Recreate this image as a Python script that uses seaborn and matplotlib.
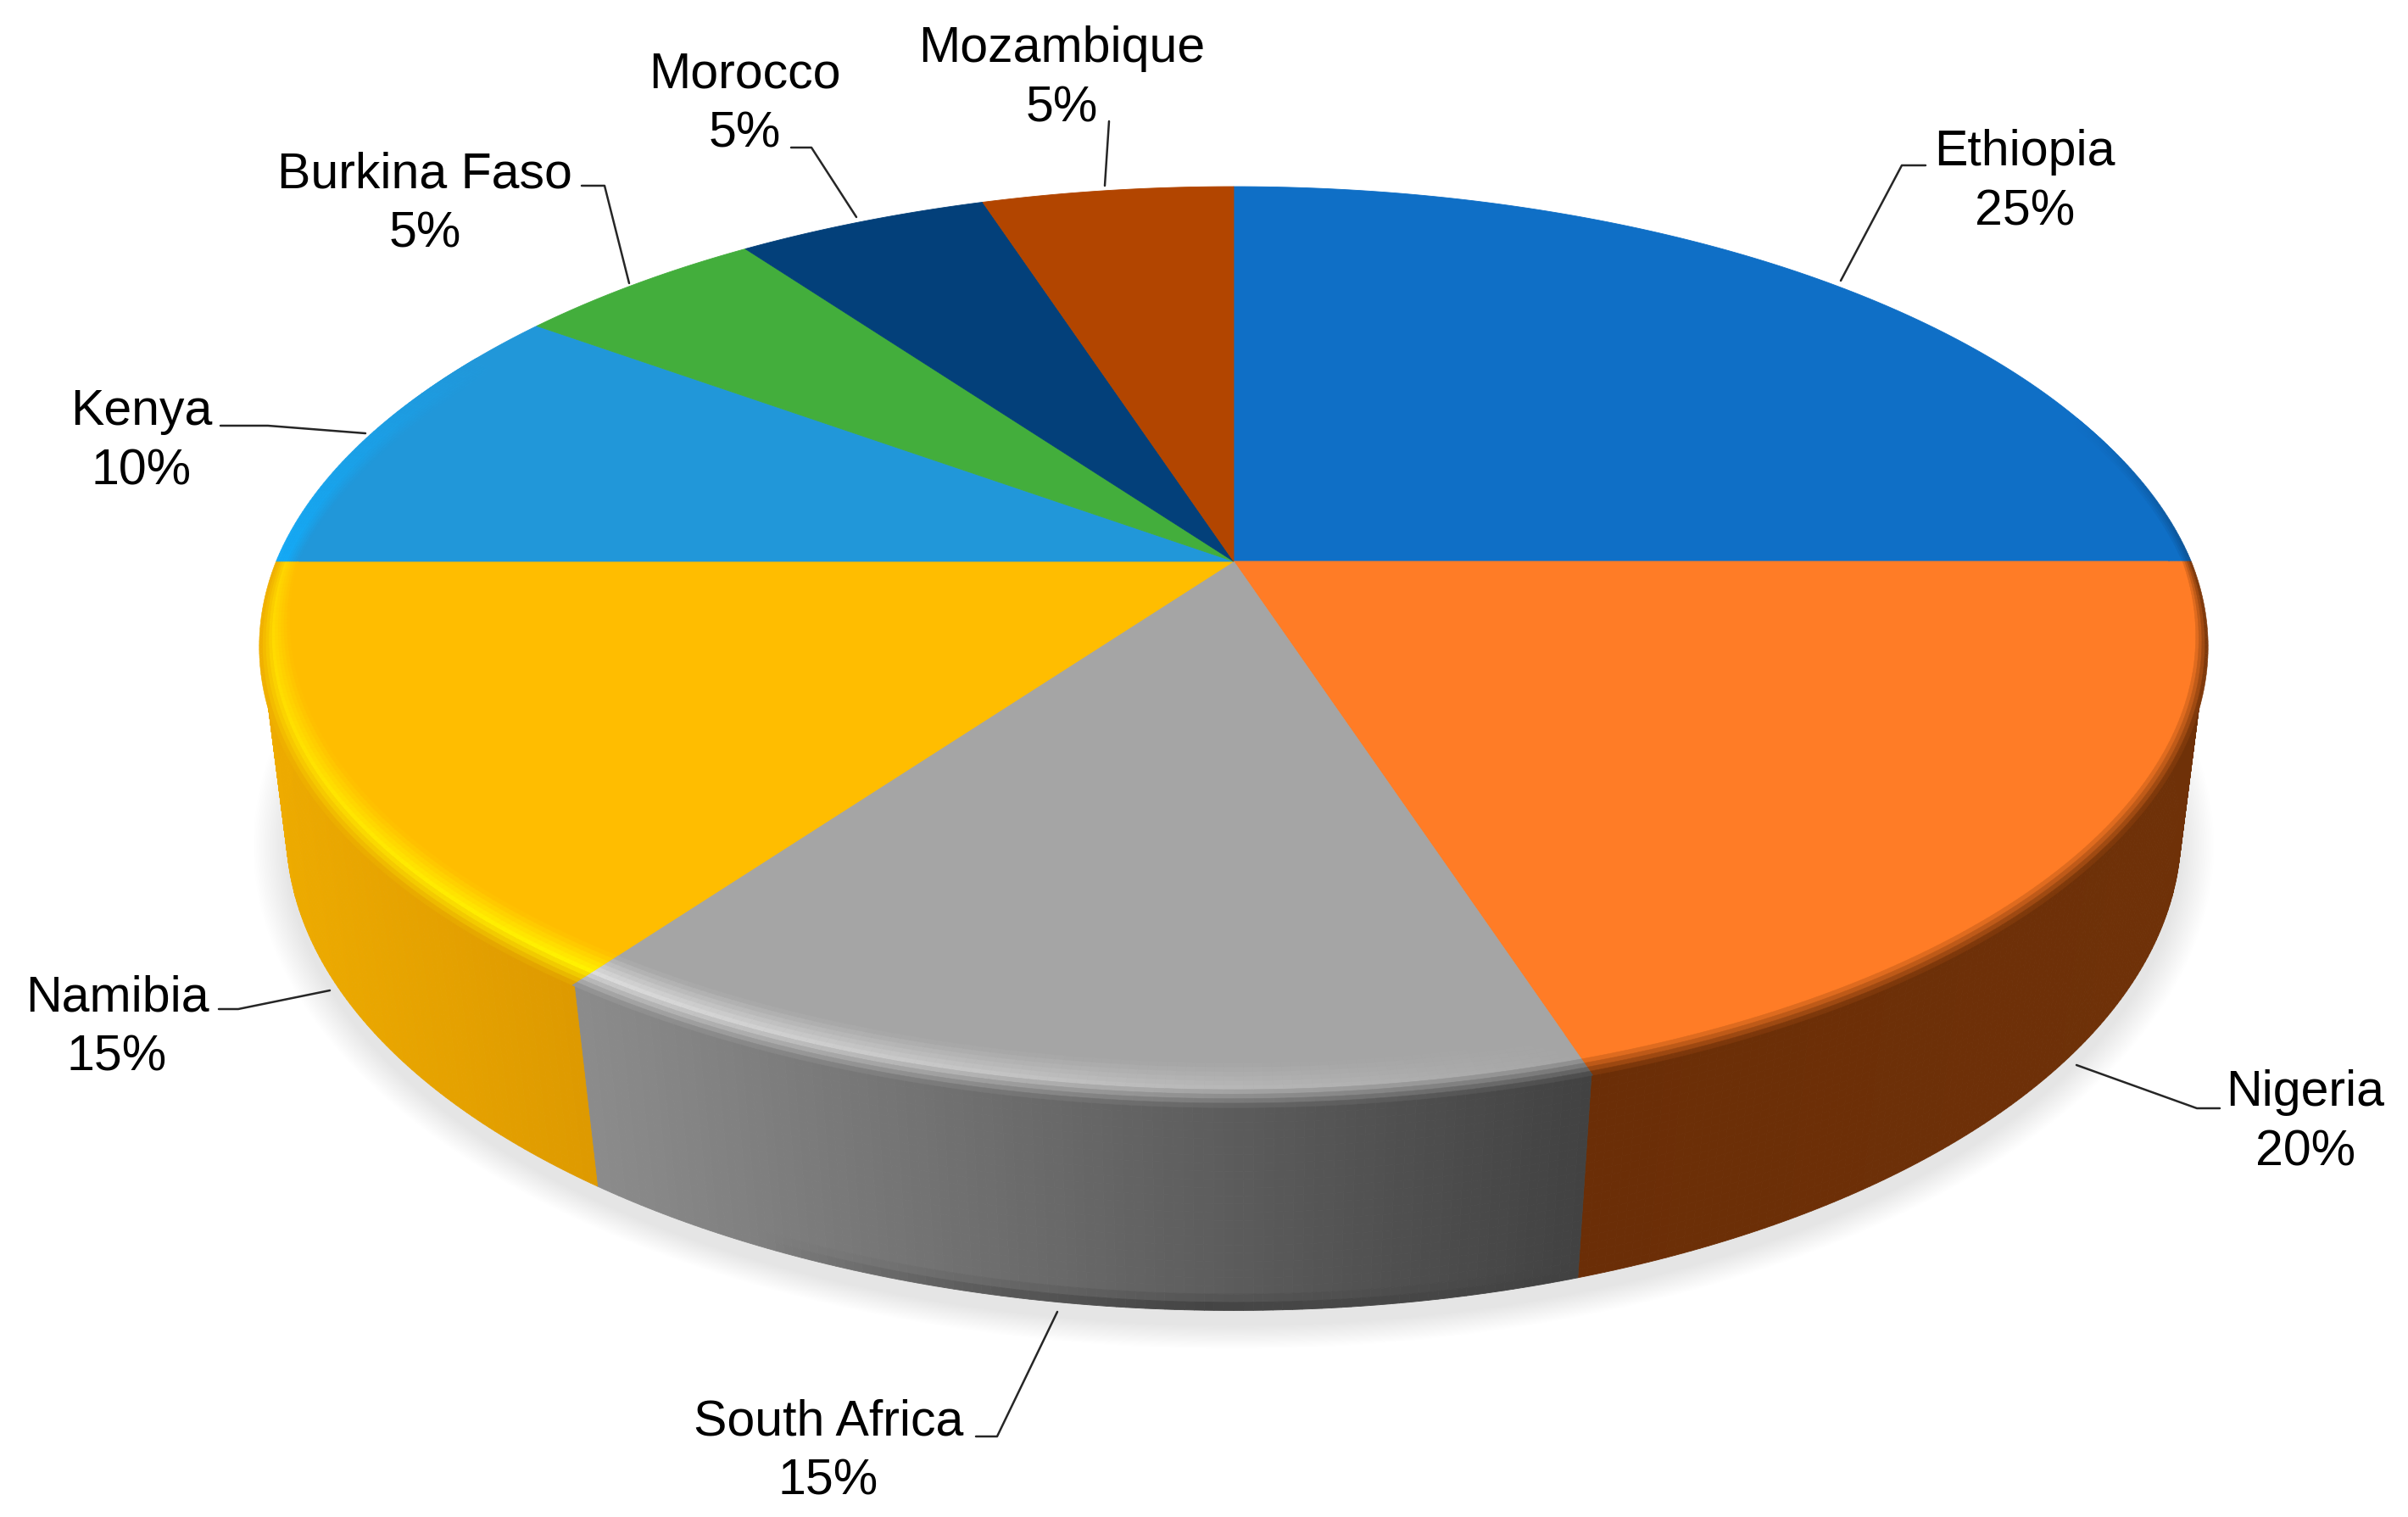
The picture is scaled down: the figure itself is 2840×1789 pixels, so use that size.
import numpy as np
import seaborn as sns
import matplotlib.pyplot as plt
from matplotlib.collections import PolyCollection
from matplotlib.colors import to_rgb

# data
countries = ['Ethiopia', 'Nigeria', 'South Africa', 'Namibia', 'Kenya',
             'Burkina Faso', 'Morocco', 'Mozambique']
shares = [25, 20, 15, 15, 10, 5, 5, 5]

# colours
top_colours = ['#0F6FC6', '#FF7C26', '#A5A5A5', '#FFBD00',
               '#2197D9', '#43AE3C', '#03407A', '#B24500']
wall_left = ['#0B4F8F', '#6B2E07', '#8C8C8C', '#EDAA00',
             '#14A9F5', '#43AE3C', '#03407A', '#B24500']
wall_right = ['#0B4F8F', '#6F3108', '#424242', '#DE9A00',
              '#14A9F5', '#43AE3C', '#03407A', '#B24500']
rim_start = ['#0F6FC6', '#FF7C26', '#A5A5A5', '#FFF200',
             '#14A9F5', '#43AE3C', '#03407A', '#B24500']
rim_end = ['#0F6FC6', '#FF7C26', '#DCDCDC', '#FFD500',
           '#14A9F5', '#43AE3C', '#03407A', '#B24500']

# layout, pixels of the 2840x1790 picture
CX, CY = 1455, 663
TOP_A, TOP_B, TOP_K = 1126, 523.5, 0.1845
BOT_A, BOT_B, BOT_K, BOT_CY = 1101, 549, 0.17, 885

label_pos = [(2388, 215), (2719, 1324), (977, 1712), (138, 1212),
             (167, 521), (501, 241), (878, 123), (1252, 93)]
leaders = [
    [(2171, 332), (2243, 196), (2271, 196)],
    [(2449, 1257), (2591, 1308), (2618, 1308)],
    [(1247, 1548), (1176, 1695), (1151, 1695)],
    [(389, 1169), (281, 1191), (258, 1191)],
    [(431, 512), (316, 503), (260, 503)],
    [(742, 335), (713, 220), (686, 220)],
    [(1010, 257), (957, 175), (933, 175)],
    [(1303, 220), (1308, 144)],
]


def top_pt(theta, r=1.0):
    t = np.radians(theta)
    w = 1 + TOP_K * r * np.cos(t)
    return CX + TOP_A * r * np.sin(t) / w, CY - TOP_B * r * np.cos(t) / w


def bot_pt(theta):
    t = np.radians(theta)
    w = 1 + BOT_K * np.cos(t)
    return CX + BOT_A * np.sin(t) / w, BOT_CY - BOT_B * np.cos(t) / w


def mix(a, b, t):
    return tuple(np.array(a) * (1 - t) + np.array(b) * t)


sns.set_theme(style='white')
plt.rcParams['font.family'] = ['Liberation Sans', 'DejaVu Sans']

fig = plt.figure(figsize=(28.4, 17.9), dpi=100)
ax = fig.add_axes([0, 0, 1, 1])

palette = sns.color_palette(top_colours)
edges = np.cumsum([0] + shares) / sum(shares) * 360

# soft shadow under the disc
ring = np.linspace(0, 360, 361)
bx, by = bot_pt(ring)
for grow in np.linspace(1.05, 1.0, 26):
    ax.fill(CX + (bx - CX) * (1 + (grow - 1) * 0.7), 1018 + (by - 1000) * grow,
            color='black', alpha=0.0055, lw=0, zorder=1)


def x_at(th):
    return top_pt(th)[0]


# side wall
wall_polys, wall_cols = [], []
for i in range(len(countries)):
    a, b = max(edges[i], 90), min(edges[i + 1], 270)
    if a >= b:
        continue
    ths = np.arange(a, b, 0.5)
    xa, xb = sorted([x_at(a), x_at(b)])
    for th in ths:
        th2 = min(th + 0.5, b)
        f = (x_at(th) - xa) / (xb - xa)
        base = mix(to_rgb(wall_left[i]), to_rgb(wall_right[i]), f)
        p1, p2 = top_pt(th), top_pt(th2)
        q1, q2 = bot_pt(th), bot_pt(th2)
        for t0 in np.linspace(0, 0.96, 25):
            t1 = t0 + 0.04
            col = base
            if countries[i] == 'South Africa':
                s = np.clip(1 - abs(th - 181) / 24, 0, 1)
                col = mix(base, to_rgb('#3C3C3C'), s * np.clip((t0 - 0.9) / 0.08, 0, 1))
            wall_polys.append([
                (p1[0] + (q1[0] - p1[0]) * t0, p1[1] + (q1[1] - p1[1]) * t0),
                (p2[0] + (q2[0] - p2[0]) * t0, p2[1] + (q2[1] - p2[1]) * t0),
                (p2[0] + (q2[0] - p2[0]) * t1, p2[1] + (q2[1] - p2[1]) * t1),
                (p1[0] + (q1[0] - p1[0]) * t1, p1[1] + (q1[1] - p1[1]) * t1),
            ])
            wall_cols.append(col)
ax.add_collection(PolyCollection(wall_polys, facecolors=wall_cols, edgecolors=wall_cols,
                                 linewidths=0.6, zorder=2))

# top face
for i, col in enumerate(palette):
    ths = np.linspace(edges[i], edges[i + 1], 120)
    xs, ys = top_pt(ths)
    ax.fill(np.r_[CX, xs], np.r_[CY, ys], color=col, lw=0.6, zorder=3)

# bevel round the front of the top face
rim_polys, rim_cols = [], []
for i in range(len(countries)):
    face = to_rgb(top_colours[i])
    for th in np.arange(edges[i], edges[i + 1], 0.5):
        if th < 70 or th >= 300:
            continue
        th2 = min(th + 0.5, edges[i + 1])
        amount = 1.0
        if th < 90:
            amount = (th - 70) / 20
        elif th >= 270:
            amount = (300 - th) / 30
        f = (th - edges[i]) / (edges[i + 1] - edges[i])
        hi = mix(to_rgb(rim_start[i]), to_rgb(rim_end[i]), f)
        if edges[i] < 90 or edges[i] >= 270:
            wall = to_rgb(wall_left[i])
        else:
            a, b = max(edges[i], 90), min(edges[i + 1], 270)
            xa, xb = sorted([x_at(a), x_at(b)])
            wall = mix(to_rgb(wall_left[i]), to_rgb(wall_right[i]), (x_at(th) - xa) / (xb - xa))
        width = 0.02 + 0.045 * abs(np.cos(np.radians(th)))
        out = 0.003 * amount
        for t0 in np.linspace(0, 0.9, 10):
            t1 = t0 + 0.1
            tc = t0 + 0.05
            col = mix(face, hi, tc / 0.55) if tc < 0.55 else mix(hi, wall, (tc - 0.55) / 0.45)
            col = mix(face, col, amount)
            r0, r1 = 1 - width + t0 * (width + out), 1 - width + t1 * (width + out)
            rim_polys.append([top_pt(th, r0), top_pt(th2, r0), top_pt(th2, r1), top_pt(th, r1)])
            rim_cols.append(col)
ax.add_collection(PolyCollection(rim_polys, facecolors=rim_cols, edgecolors=rim_cols,
                                 linewidths=0.4, zorder=4))

# labels with leader lines
for name, share, pos, line in zip(countries, shares, label_pos, leaders):
    ax.text(pos[0], pos[1], f'{name}\n{share}%', ha='center', va='center', fontsize=42.5,
            linespacing=1.37, color='black', zorder=6)
    ax.plot(*zip(*line), color='#262626', lw=1.8, zorder=5, solid_capstyle='round')

ax.set_xlim(0, 2840)
ax.set_ylim(1790, 0)
ax.axis('off')

fig.savefig('out.png', dpi=100, facecolor='white')
